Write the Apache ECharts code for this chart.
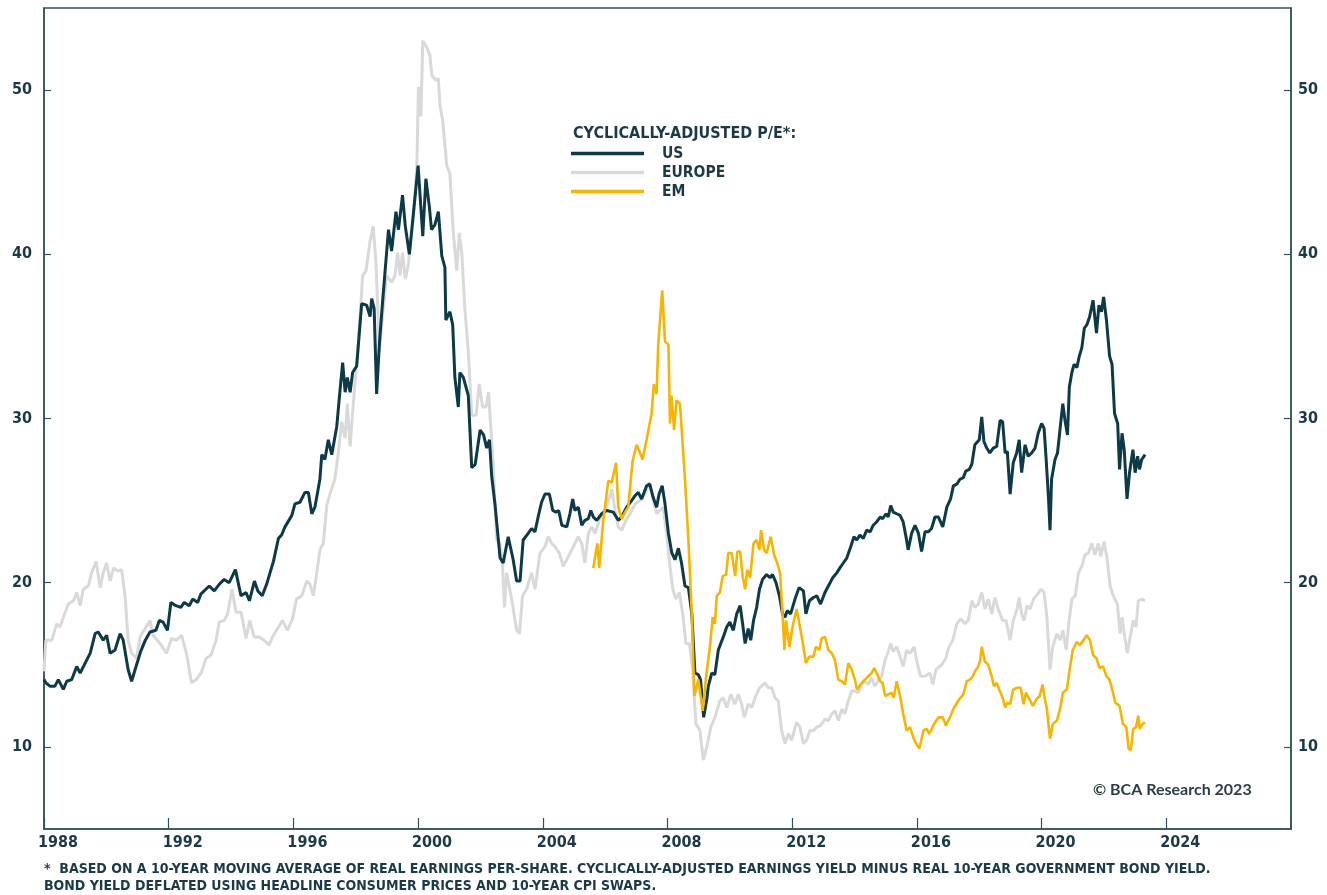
<!DOCTYPE html>
<html>
<head>
<meta charset="utf-8">
<title>Cyclically-adjusted P/E</title>
<script src="https://cdn.jsdelivr.net/npm/echarts@6/dist/echarts.min.js"></script>
<style>
  html, body { margin: 0; padding: 0; background: #fff; }
  #chart { width: 1327px; height: 895px; }
</style>
</head>
<body>
<div id="chart"></div>
<script>
// [year, CAPE]
const usData = [
  [1988.0,14.1],[1988.06,13.9],[1988.19,13.7],[1988.35,13.7],[1988.46,14.1],[1988.62,13.5],[1988.73,14.0],[1988.89,14.1],
  [1989.05,14.9],[1989.16,14.5],[1989.32,15.1],[1989.48,15.7],[1989.64,16.9],[1989.74,17.0],[1989.9,16.5],[1990.01,16.8],
  [1990.12,15.7],[1990.28,15.9],[1990.44,16.9],[1990.54,16.5],[1990.7,14.7],[1990.81,14.0],[1990.97,15.0],[1991.1,15.8],
  [1991.25,16.5],[1991.4,17.0],[1991.59,17.1],[1991.7,17.7],[1991.82,17.6],[1991.96,17.1],[1992.07,18.8],[1992.23,18.6],
  [1992.39,18.5],[1992.5,18.8],[1992.66,18.6],[1992.77,19.0],[1992.93,18.8],[1993.03,19.3],[1993.3,19.8],[1993.46,19.5],
  [1993.62,19.9],[1993.78,20.2],[1993.94,20.0],[1994.14,20.8],[1994.32,19.2],[1994.48,19.4],[1994.59,18.9],[1994.75,20.1],
  [1994.86,19.5],[1995.0,19.2],[1995.14,19.9],[1995.36,21.3],[1995.52,22.7],[1995.62,22.9],[1995.73,23.4],[1995.79,23.3],
  [1995.95,24.1],[1996.05,24.8],[1996.21,24.9],[1996.37,25.5],[1996.48,25.5],[1996.59,24.2],[1996.69,24.6],[1996.85,26.3],
  [1996.91,27.8],[1997.01,27.5],[1997.12,28.7],[1997.23,27.8],[1997.39,29.5],[1997.49,31.6],[1997.58,33.4],[1997.66,31.6],
  [1997.73,32.5],[1997.82,31.6],[1997.9,32.8],[1998.03,33.2],[1998.19,37.0],[1998.35,36.9],[1998.46,36.2],[1998.51,37.3],
  [1998.59,36.7],[1998.67,31.5],[1998.76,34.6],[1998.86,37.1],[1999.05,41.5],[1999.15,40.2],[1999.29,42.6],[1999.37,41.5],
  [1999.5,43.6],[1999.59,41.7],[1999.72,40.0],[2000.0,45.4],[2000.15,41.1],[2000.25,44.6],[2000.36,42.9],[2000.43,41.5],
  [2000.54,41.8],[2000.65,42.6],[2000.76,39.9],[2000.86,39.2],[2000.89,36.0],[2001.02,36.5],[2001.11,35.7],[2001.18,32.5],
  [2001.29,30.7],[2001.34,32.8],[2001.45,32.5],[2001.61,31.4],[2001.72,27.0],[2001.83,27.2],[2001.99,29.3],[2002.1,29.0],
  [2002.2,28.2],[2002.29,28.7],[2002.36,26.5],[2002.47,24.7],[2002.63,21.5],[2002.73,21.2],[2002.89,22.8],[2003.05,21.4],
  [2003.16,20.1],[2003.27,20.1],[2003.37,22.6],[2003.53,23.0],[2003.64,23.3],[2003.75,23.1],[2003.85,24.0],[2003.96,24.9],
  [2004.07,25.4],[2004.21,25.4],[2004.32,24.4],[2004.42,24.3],[2004.51,24.4],[2004.61,23.5],[2004.77,23.4],[2004.87,24.2],
  [2004.96,25.1],[2005.03,24.4],[2005.14,24.6],[2005.25,23.5],[2005.35,23.8],[2005.46,23.9],[2005.54,24.4],[2005.62,24.0],
  [2005.73,23.8],[2005.89,24.2],[2006.05,24.4],[2006.26,24.3],[2006.42,23.8],[2006.53,24.0],[2006.69,24.6],[2006.85,25.0],
  [2006.96,25.3],[2007.06,25.5],[2007.17,25.1],[2007.33,25.9],[2007.43,26.0],[2007.54,25.2],[2007.65,24.6],[2007.73,25.4],
  [2007.83,25.9],[2007.92,24.8],[2008.03,23.0],[2008.14,21.8],[2008.24,21.4],[2008.35,22.1],[2008.45,21.2],[2008.56,19.8],
  [2008.67,19.7],[2008.78,18.1],[2008.88,14.5],[2008.99,14.4],[2009.06,14.1],[2009.16,11.8],[2009.26,12.9],[2009.31,13.7],
  [2009.42,14.5],[2009.52,14.4],[2009.63,15.9],[2009.79,16.7],[2009.9,17.3],[2010.0,17.6],[2010.11,17.1],[2010.22,18.1],
  [2010.33,18.6],[2010.41,17.5],[2010.49,16.3],[2010.59,17.2],[2010.67,16.5],[2010.76,17.7],[2010.86,18.5],[2010.95,19.6],
  [2011.05,20.2],[2011.18,20.5],[2011.29,20.3],[2011.37,20.5],[2011.48,20.0],[2011.59,19.2],[2011.69,18.1],[2011.77,17.9],
  [2011.84,18.3],[2011.95,18.1],[2012.09,19.0],[2012.22,19.7],[2012.36,19.5],[2012.44,18.1],[2012.55,18.9],[2012.68,19.1],
  [2012.79,19.2],[2012.91,18.7],[2013.05,19.4],[2013.16,19.8],[2013.3,20.3],[2013.43,20.6],[2013.53,20.9],[2013.64,21.2],
  [2013.75,21.5],[2013.88,22.2],[2013.98,22.8],[2014.07,22.6],[2014.17,22.9],[2014.28,22.7],[2014.39,23.2],[2014.5,23.1],
  [2014.6,23.5],[2014.71,23.7],[2014.82,24.0],[2014.9,23.9],[2015.01,24.2],[2015.08,24.0],[2015.16,24.7],[2015.24,24.3],
  [2015.35,24.2],[2015.46,24.1],[2015.56,23.7],[2015.65,22.8],[2015.72,22.0],[2015.83,23.0],[2015.94,23.5],[2016.05,23.0],
  [2016.15,21.9],[2016.26,23.1],[2016.37,23.1],[2016.47,23.3],[2016.58,24.0],[2016.69,24.0],[2016.83,23.4],[2016.96,24.6],
  [2017.08,25.1],[2017.17,25.9],[2017.28,26.0],[2017.38,26.3],[2017.49,26.4],[2017.57,26.8],[2017.68,26.9],[2017.76,27.2],
  [2017.86,28.4],[2018.0,28.7],[2018.08,30.1],[2018.15,28.6],[2018.24,28.2],[2018.34,27.9],[2018.45,28.2],[2018.56,28.3],
  [2018.67,29.9],[2018.75,29.8],[2018.83,27.9],[2018.9,28.0],[2018.99,25.4],[2019.09,27.3],[2019.2,27.9],[2019.28,28.7],
  [2019.36,26.7],[2019.47,28.4],[2019.57,27.7],[2019.68,27.9],[2019.79,28.2],[2019.89,29.1],[2020.0,29.7],[2020.08,29.4],
  [2020.14,27.7],[2020.22,25.2],[2020.27,23.2],[2020.32,26.3],[2020.43,27.5],[2020.51,27.9],[2020.6,29.5],[2020.68,30.9],
  [2020.75,29.9],[2020.83,29.0],[2020.89,31.9],[2020.97,32.8],[2021.04,33.3],[2021.13,33.1],[2021.21,33.8],[2021.29,34.3],
  [2021.37,35.5],[2021.45,35.7],[2021.54,36.2],[2021.65,37.2],[2021.76,35.2],[2021.84,36.9],[2021.92,36.5],[2021.99,37.4],
  [2022.08,36.0],[2022.18,33.8],[2022.26,33.3],[2022.34,30.3],[2022.44,29.7],[2022.5,26.9],[2022.58,29.1],[2022.65,28.1],
  [2022.74,25.1],[2022.82,26.7],[2022.93,28.1],[2023.0,26.7],[2023.08,27.7],[2023.14,26.9],[2023.21,27.5],[2023.32,27.8]
];

const europeData = [
  [1988.0,14.6],[1988.06,16.5],[1988.25,16.5],[1988.41,17.5],[1988.51,17.3],[1988.62,17.9],[1988.78,18.7],[1988.94,18.9],
  [1989.05,19.4],[1989.16,18.6],[1989.26,19.6],[1989.42,19.8],[1989.53,20.6],[1989.67,21.3],[1989.8,19.7],[1989.9,20.6],
  [1990.01,21.2],[1990.12,20.1],[1990.23,20.9],[1990.38,20.7],[1990.49,20.8],[1990.6,19.2],[1990.7,16.5],[1990.81,15.7],
  [1990.97,15.4],[1991.08,16.7],[1991.24,17.2],[1991.4,17.7],[1991.5,16.8],[1991.72,16.3],[1991.93,15.7],[1992.09,16.6],
  [1992.25,16.5],[1992.41,16.8],[1992.57,15.7],[1992.73,13.9],[1992.88,14.1],[1993.04,14.5],[1993.2,15.4],[1993.36,15.6],
  [1993.52,16.5],[1993.62,17.6],[1993.78,17.7],[1993.89,18.1],[1994.03,19.6],[1994.16,18.2],[1994.32,18.2],[1994.48,16.6],
  [1994.6,17.7],[1994.74,16.7],[1994.9,16.7],[1995.06,16.5],[1995.22,16.2],[1995.33,16.7],[1995.49,17.2],[1995.65,17.7],
  [1995.81,17.1],[1995.97,17.8],[1996.1,19.0],[1996.27,19.2],[1996.43,20.1],[1996.53,19.9],[1996.64,19.2],[1996.75,20.6],
  [1996.85,22.0],[1996.96,22.4],[1997.07,24.7],[1997.17,25.4],[1997.33,26.3],[1997.44,27.9],[1997.55,29.8],[1997.66,28.8],
  [1997.73,30.9],[1997.82,28.3],[1997.92,30.9],[1998.03,33.4],[1998.14,36.2],[1998.22,38.7],[1998.33,39.0],[1998.46,40.8],
  [1998.56,41.7],[1998.65,39.4],[1998.76,34.1],[1998.86,36.2],[1998.99,38.7],[1999.15,38.3],[1999.26,38.7],[1999.34,40.1],
  [1999.42,38.7],[1999.5,40.1],[1999.59,38.5],[1999.69,39.4],[1999.76,40.8],[1999.85,42.2],[1999.96,45.4],[2000.01,50.2],
  [2000.09,48.4],[2000.15,53.0],[2000.28,52.6],[2000.38,52.1],[2000.44,50.9],[2000.57,50.6],[2000.65,50.7],[2000.7,49.1],
  [2000.79,48.1],[2000.92,45.4],[2001.02,44.9],[2001.13,41.3],[2001.24,39.0],[2001.32,41.3],[2001.4,40.1],[2001.5,36.7],
  [2001.61,34.1],[2001.72,30.2],[2001.86,30.2],[2001.96,32.1],[2002.07,30.7],[2002.18,30.7],[2002.26,31.6],[2002.33,29.5],
  [2002.41,27.2],[2002.52,22.6],[2002.63,22.4],[2002.71,21.0],[2002.77,18.5],[2002.84,20.6],[2003.0,19.0],[2003.16,17.1],
  [2003.25,16.9],[2003.35,19.2],[2003.48,19.6],[2003.64,20.6],[2003.75,19.6],[2003.91,21.8],[2004.07,22.2],[2004.17,22.8],
  [2004.28,22.4],[2004.39,22.2],[2004.53,21.8],[2004.66,21.0],[2004.82,21.6],[2004.98,22.2],[2005.14,22.8],[2005.25,22.4],
  [2005.35,21.2],[2005.46,23.0],[2005.57,23.4],[2005.67,23.0],[2005.78,23.6],[2005.89,24.2],[2006.05,24.6],[2006.21,25.7],
  [2006.32,24.4],[2006.42,23.4],[2006.53,23.2],[2006.67,23.8],[2006.8,24.2],[2006.96,24.8],[2007.12,25.0],[2007.28,25.4],
  [2007.42,26.1],[2007.52,25.2],[2007.65,24.2],[2007.76,24.4],[2007.86,24.6],[2007.97,23.0],[2008.08,21.0],[2008.17,19.6],
  [2008.27,19.0],[2008.38,19.4],[2008.49,18.1],[2008.59,16.3],[2008.7,16.3],[2008.81,14.7],[2008.91,11.4],[2009.04,11.0],
  [2009.15,9.2],[2009.26,10.0],[2009.39,11.2],[2009.52,11.8],[2009.68,12.8],[2009.79,13.0],[2009.9,12.4],[2010.03,13.2],
  [2010.16,12.6],[2010.27,13.2],[2010.38,12.6],[2010.46,11.8],[2010.59,12.6],[2010.7,12.4],[2010.81,13.0],[2010.95,13.6],
  [2011.13,13.9],[2011.23,13.6],[2011.34,13.6],[2011.45,13.0],[2011.55,12.8],[2011.66,11.0],[2011.77,10.2],[2011.88,10.8],
  [2011.98,10.4],[2012.14,11.5],[2012.25,11.2],[2012.36,10.2],[2012.46,10.4],[2012.57,11.0],[2012.68,11.0],[2012.79,11.2],
  [2012.91,11.3],[2013.05,11.7],[2013.16,11.6],[2013.27,12.0],[2013.37,12.2],[2013.48,11.6],[2013.59,12.3],[2013.69,12.0],
  [2013.8,12.8],[2013.91,13.4],[2014.01,13.4],[2014.12,13.3],[2014.23,13.8],[2014.33,14.0],[2014.44,13.8],[2014.55,14.2],
  [2014.65,13.7],[2014.76,14.0],[2014.87,14.3],[2014.98,15.3],[2015.08,15.8],[2015.16,16.3],[2015.24,15.8],[2015.35,16.1],
  [2015.46,15.5],[2015.56,14.9],[2015.67,15.9],[2015.78,15.7],[2015.91,16.1],[2016.01,15.1],[2016.12,14.3],[2016.26,14.3],
  [2016.42,14.5],[2016.51,13.8],[2016.61,14.7],[2016.79,15.0],[2016.93,15.4],[2017.01,16.0],[2017.15,16.5],[2017.28,17.5],
  [2017.41,17.8],[2017.54,17.5],[2017.65,17.7],[2017.76,18.9],[2017.86,18.5],[2017.97,18.7],[2018.08,19.4],[2018.18,18.4],
  [2018.29,19.0],[2018.4,18.1],[2018.5,19.1],[2018.61,18.4],[2018.75,17.7],[2018.86,17.7],[2018.99,16.5],[2019.09,17.7],
  [2019.2,18.3],[2019.28,19.1],[2019.36,18.1],[2019.44,17.7],[2019.53,18.6],[2019.63,18.4],[2019.74,19.0],[2019.87,19.3],
  [2019.98,19.6],[2020.08,19.4],[2020.17,17.9],[2020.27,14.7],[2020.36,16.1],[2020.49,16.9],[2020.6,16.5],[2020.68,17.1],
  [2020.79,15.9],[2020.86,17.3],[2020.97,19.0],[2021.08,19.2],[2021.18,20.6],[2021.29,21.0],[2021.39,21.7],[2021.5,21.8],
  [2021.61,22.4],[2021.71,21.7],[2021.82,22.4],[2021.9,21.6],[2022.0,22.5],[2022.09,21.6],[2022.2,19.8],[2022.3,19.2],
  [2022.43,18.7],[2022.52,16.9],[2022.58,17.9],[2022.65,16.9],[2022.75,15.7],[2022.86,16.9],[2022.94,17.7],[2023.03,17.3],
  [2023.1,18.9],[2023.21,19.0],[2023.32,18.9]
];

const emData = [
  [2005.62,20.9],[2005.67,21.0],[2005.75,22.4],[2005.81,20.9],[2005.94,23.8],[2006.1,26.2],[2006.21,26.1],[2006.35,27.3],
  [2006.42,24.6],[2006.53,23.9],[2006.64,24.3],[2006.74,24.6],[2006.88,27.4],[2007.01,28.4],[2007.12,27.9],[2007.2,27.5],
  [2007.33,28.7],[2007.49,30.3],[2007.56,32.1],[2007.65,31.5],[2007.7,34.4],[2007.83,37.8],[2007.92,34.7],[2008.03,34.5],
  [2008.08,29.7],[2008.13,31.4],[2008.21,29.3],[2008.29,31.1],[2008.4,30.9],[2008.56,26.3],[2008.67,22.6],[2008.78,18.1],
  [2008.86,13.1],[2008.99,14.1],[2009.13,12.2],[2009.24,14.3],[2009.36,16.1],[2009.45,17.9],[2009.52,17.5],[2009.58,19.2],
  [2009.68,19.4],[2009.77,20.4],[2009.88,20.5],[2009.95,21.8],[2010.06,21.8],[2010.17,20.4],[2010.24,21.9],[2010.33,21.9],
  [2010.41,20.4],[2010.49,19.6],[2010.56,20.8],[2010.65,20.3],[2010.76,22.4],[2010.86,22.6],[2010.95,22.0],[2011.0,23.2],
  [2011.1,22.0],[2011.18,21.8],[2011.31,22.8],[2011.42,21.7],[2011.52,21.2],[2011.61,20.6],[2011.69,18.1],[2011.75,15.9],
  [2011.8,17.7],[2011.91,16.1],[2012.01,17.3],[2012.14,18.4],[2012.25,17.3],[2012.36,16.1],[2012.44,15.1],[2012.55,15.5],
  [2012.68,15.5],[2012.76,16.1],[2012.87,15.9],[2012.94,16.6],[2013.05,16.7],[2013.16,15.9],[2013.27,15.7],[2013.37,15.3],
  [2013.48,14.1],[2013.59,14.0],[2013.69,13.8],[2013.8,15.1],[2013.91,14.7],[2014.01,14.1],[2014.08,13.5],[2014.19,13.8],
  [2014.33,14.1],[2014.44,14.3],[2014.55,14.5],[2014.63,14.8],[2014.71,14.5],[2014.82,14.0],[2014.9,13.9],[2014.98,13.1],
  [2015.08,13.2],[2015.19,13.3],[2015.26,13.0],[2015.35,14.0],[2015.46,13.1],[2015.56,12.0],[2015.67,11.0],[2015.78,11.2],
  [2015.88,10.6],[2015.97,10.2],[2016.08,9.9],[2016.21,11.0],[2016.31,11.1],[2016.4,10.8],[2016.55,11.4],[2016.69,11.8],
  [2016.83,11.8],[2016.93,11.3],[2017.06,11.8],[2017.19,12.4],[2017.36,12.9],[2017.49,13.2],[2017.6,14.0],[2017.7,14.1],
  [2017.79,14.3],[2017.86,14.6],[2017.97,14.9],[2018.03,15.3],[2018.08,16.1],[2018.18,15.2],[2018.29,15.0],[2018.4,14.3],
  [2018.47,13.7],[2018.56,13.9],[2018.64,13.5],[2018.75,13.0],[2018.83,12.4],[2018.9,12.7],[2018.99,12.6],[2019.09,13.5],
  [2019.22,13.6],[2019.33,13.6],[2019.42,12.6],[2019.5,13.3],[2019.61,12.9],[2019.72,12.5],[2019.83,12.9],[2019.94,13.1],
  [2020.03,13.8],[2020.09,13.1],[2020.17,12.3],[2020.27,10.5],[2020.36,11.4],[2020.49,11.6],[2020.6,12.4],[2020.68,13.3],
  [2020.81,13.5],[2020.9,14.7],[2021.0,15.9],[2021.13,16.4],[2021.23,16.2],[2021.34,16.5],[2021.45,16.8],[2021.55,16.5],
  [2021.65,15.6],[2021.76,15.4],[2021.86,14.8],[2021.97,14.9],[2022.08,14.3],[2022.18,14.1],[2022.29,13.3],[2022.36,12.7],
  [2022.5,12.5],[2022.61,11.4],[2022.72,11.2],[2022.79,9.9],[2022.86,9.8],[2022.94,11.1],[2023.03,11.2],[2023.1,11.9],
  [2023.15,11.1],[2023.24,11.4],[2023.32,11.5]
];

const xTickYears = [1988, 1992, 1996, 2000, 2004, 2008, 2012, 2016, 2020, 2024];
const yTickValues = [10, 20, 30, 40, 50];
const seriesNames = ['US', 'EUROPE', 'EM'];

const ink = '#1b3a48';
const frame = '#33525c';
const font = 'DejaVu Sans Condensed';

const chart = echarts.init(document.getElementById('chart'));

const yAxisBase = (position, margin) => ({
  type: 'value',
  position: position,
  min: 5,
  max: 55,
  splitLine: { show: false },
  axisLine: { show: true, lineStyle: { color: frame, width: 1.5 } },
  axisTick: { show: true, inside: true, length: 7, customValues: yTickValues, lineStyle: { color: frame, width: 1.2 } },
  axisLabel: {
    customValues: yTickValues,
    margin: margin,
    color: ink,
    fontFamily: font,
    fontWeight: 'bold',
    fontSize: 16
  }
});

const option = {
  animation: false,
  backgroundColor: '#fff',
  grid: {
    left: 44, right: 36, top: 8, bottom: 66,
    show: true, borderColor: frame, borderWidth: 1.5, backgroundColor: 'transparent'
  },
  title: {
    text: 'CYCLICALLY-ADJUSTED P/E*:',
    left: 573, top: 126, padding: 0,
    textStyle: { color: ink, fontFamily: font, fontWeight: 'bold', fontSize: 16 }
  },
  legend: {
    orient: 'vertical',
    left: 571, top: 144,
    padding: 0,
    itemGap: 0,
    itemWidth: 73,
    itemHeight: 3.5,
    icon: 'rect',
    data: seriesNames,
    textStyle: {
      color: ink, fontFamily: font, fontWeight: 'bold', fontSize: 15.5,
      lineHeight: 7, padding: [12, 0, 0, 13]
    }
  },
  xAxis: {
    type: 'value',
    min: 1988,
    max: 2028,
    splitLine: { show: false },
    axisLine: { show: true, lineStyle: { color: frame, width: 1.5 } },
    axisTick: { show: true, inside: true, length: 11, customValues: xTickYears, lineStyle: { color: frame, width: 1.2 } },
    axisLabel: {
      customValues: xTickYears,
      margin: 6,
      padding: [0, 0, 0, 28],
      color: ink,
      fontFamily: font,
      fontWeight: 'bold',
      fontSize: 16,
      formatter: v => String(v)
    }
  },
  yAxis: [yAxisBase('left', 12), yAxisBase('right', 7)],
  series: [
    {
      name: 'US', type: 'line', data: usData, z: 3,
      showSymbol: false, symbol: 'none',
      lineStyle: { color: '#0c3a46', width: 3 }, itemStyle: { color: '#0c3a46' }
    },
    {
      name: 'EUROPE', type: 'line', data: europeData, z: 2,
      showSymbol: false, symbol: 'none',
      lineStyle: { color: '#d9d9d9', width: 3 }, itemStyle: { color: '#d9d9d9' }
    },
    {
      name: 'EM', type: 'line', data: emData, z: 4,
      showSymbol: false, symbol: 'none',
      lineStyle: { color: '#f7b500', width: 2.6 }, itemStyle: { color: '#f7b500' }
    }
  ],
  graphic: [
    {
      type: 'text', left: 1093, top: 782,
      style: { text: '\u00a9 BCA Research 2023', fill: '#2a3e48', font: 'bold 16px Lato' }
    },
    {
      type: 'text', left: 44, top: 862,
      style: {
        text: '*  BASED ON A 10-YEAR MOVING AVERAGE OF REAL EARNINGS PER-SHARE. CYCLICALLY-ADJUSTED EARNINGS YIELD MINUS REAL 10-YEAR GOVERNMENT BOND YIELD.',
        fill: ink, font: 'bold 14px "DejaVu Sans Condensed"'
      }
    },
    {
      type: 'text', left: 44, top: 879,
      style: {
        text: 'BOND YIELD DEFLATED USING HEADLINE CONSUMER PRICES AND 10-YEAR CPI SWAPS.',
        fill: ink, font: 'bold 14px "DejaVu Sans Condensed"'
      }
    }
  ]
};

chart.setOption(option);
</script>
</body>
</html>
